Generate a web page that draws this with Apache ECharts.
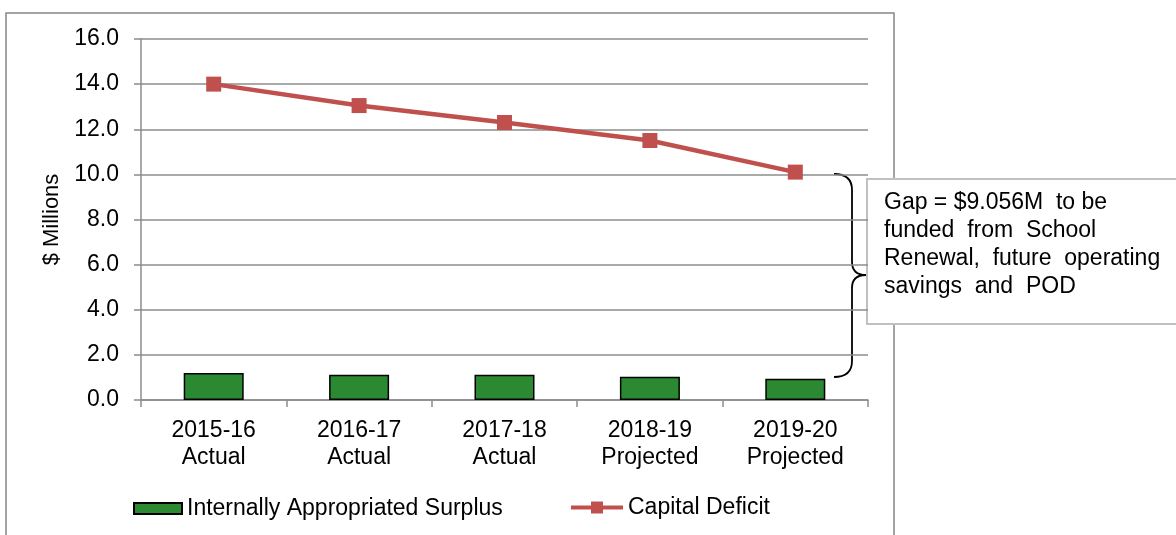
<!DOCTYPE html>
<html>
<head>
<meta charset="utf-8">
<script src="https://cdn.jsdelivr.net/npm/echarts@6/dist/echarts.min.js"></script>
<style>
  html, body { margin: 0; padding: 0; background: #fff; }
  #chart { width: 1176px; height: 535px; }
</style>
</head>
<body>
<div id="chart"></div>
<script>
const categories = ["2015-16\nActual", "2016-17\nActual", "2017-18\nActual", "2018-19\nProjected", "2019-20\nProjected"];
const surplus = [1.2, 1.12, 1.12, 1.03, 0.94];
const capitalDeficit = [14.0, 13.05, 12.3, 11.5, 10.1];
const yTicks = { min: 0, max: 16, interval: 2 };
const gapNote = "Gap = $9.056M  to be\nfunded  from  School\nRenewal,  future  operating\nsavings  and  POD";

const font = "Liberation Sans, Arial, sans-serif";
const chart = echarts.init(document.getElementById("chart"));

// curly brace beside the last point
const braceStyle = { fill: "none", stroke: "#000", lineWidth: 1.8 };
function braceCurve(x1, y1, cpx, cpy, x2, y2) {
  return { type: "bezierCurve", silent: true, shape: { x1, y1, cpx1: cpx, cpy1: cpy, x2, y2 }, style: braceStyle };
}
function braceLine(x1, y1, x2, y2) {
  return { type: "line", silent: true, shape: { x1, y1, x2, y2 }, style: braceStyle };
}

chart.setOption({
  backgroundColor: "#fff",
  animation: false,
  grid: { left: 141, right: 308, top: 39, bottom: 135 },
  legend: [
    {
      data: [{ name: "Internally Appropriated Surplus", icon: "rect" }],
      left: 133,
      top: 497,
      padding: 0,
      itemWidth: 48,
      itemHeight: 11,
      textStyle: { fontFamily: font, fontSize: 23, color: "#000" },
    },
    {
      data: [{ name: "Capital Deficit", lineStyle: { width: 4 } }],
      left: 569,
      top: 496,
      padding: 0,
      itemWidth: 52,
      itemHeight: 15,
      textStyle: { fontFamily: font, fontSize: 23, color: "#000" },
    },
  ],
  xAxis: {
    type: "category",
    data: categories,
    axisLine: { lineStyle: { color: "#8c8c8c", width: 1.5 } },
    axisTick: { show: true, length: 7, lineStyle: { color: "#8c8c8c", width: 1.5 } },
    axisLabel: {
      color: "#000",
      fontFamily: font,
      fontSize: 23,
      lineHeight: 27,
      margin: 17,
    },
  },
  yAxis: {
    type: "value",
    min: yTicks.min,
    max: yTicks.max,
    interval: yTicks.interval,
    name: "$ Millions",
    nameLocation: "middle",
    nameGap: 74,
    nameTextStyle: { fontFamily: font, fontSize: 22, color: "#000" },
    axisLine: { show: true, lineStyle: { color: "#8c8c8c", width: 1.5 } },
    axisTick: { show: true, length: 7, lineStyle: { color: "#8c8c8c", width: 1.5 } },
    splitLine: { lineStyle: { color: "#8c8c8c", width: 1.5 } },
    axisLabel: {
      color: "#000",
      fontFamily: font,
      fontSize: 23,
      margin: 22,
      formatter: (v) => v.toFixed(1),
    },
  },
  series: [
    {
      name: "Internally Appropriated Surplus",
      type: "bar",
      data: surplus,
      barWidth: 60,
      itemStyle: { color: "#2b8a31", borderColor: "#000", borderWidth: 1.5 },
    },
    {
      name: "Capital Deficit",
      type: "line",
      data: capitalDeficit,
      symbol: "rect",
      symbolSize: 15,
      lineStyle: { color: "#c0504d", width: 4.5 },
      itemStyle: { color: "#c0504d" },
    },
  ],
  graphic: [
    {
      type: "rect",
      silent: true,
      shape: { x: 6, y: 13, width: 888, height: 540 },
      style: { fill: "none", stroke: "#878787", lineWidth: 1.5 },
    },
    braceCurve(834, 174, 852, 174, 852, 190),
    braceLine(852, 190, 852, 262),
    braceCurve(852, 262, 852, 275, 866, 275),
    braceCurve(866, 275, 852, 275, 852, 288),
    braceLine(852, 288, 852, 361),
    braceCurve(852, 361, 852, 377, 834, 377),
    {
      type: "rect",
      silent: true,
      shape: { x: 867, y: 179, width: 320, height: 145 },
      style: { fill: "#fff", stroke: "#c0c0c0", lineWidth: 2 },
    },
    {
      type: "text",
      silent: true,
      left: 884,
      top: 189,
      style: {
        text: gapNote,
        fontFamily: font,
        fontSize: 23,
        lineHeight: 28,
        fill: "#000",
      },
    },
  ],
});
</script>
</body>
</html>
